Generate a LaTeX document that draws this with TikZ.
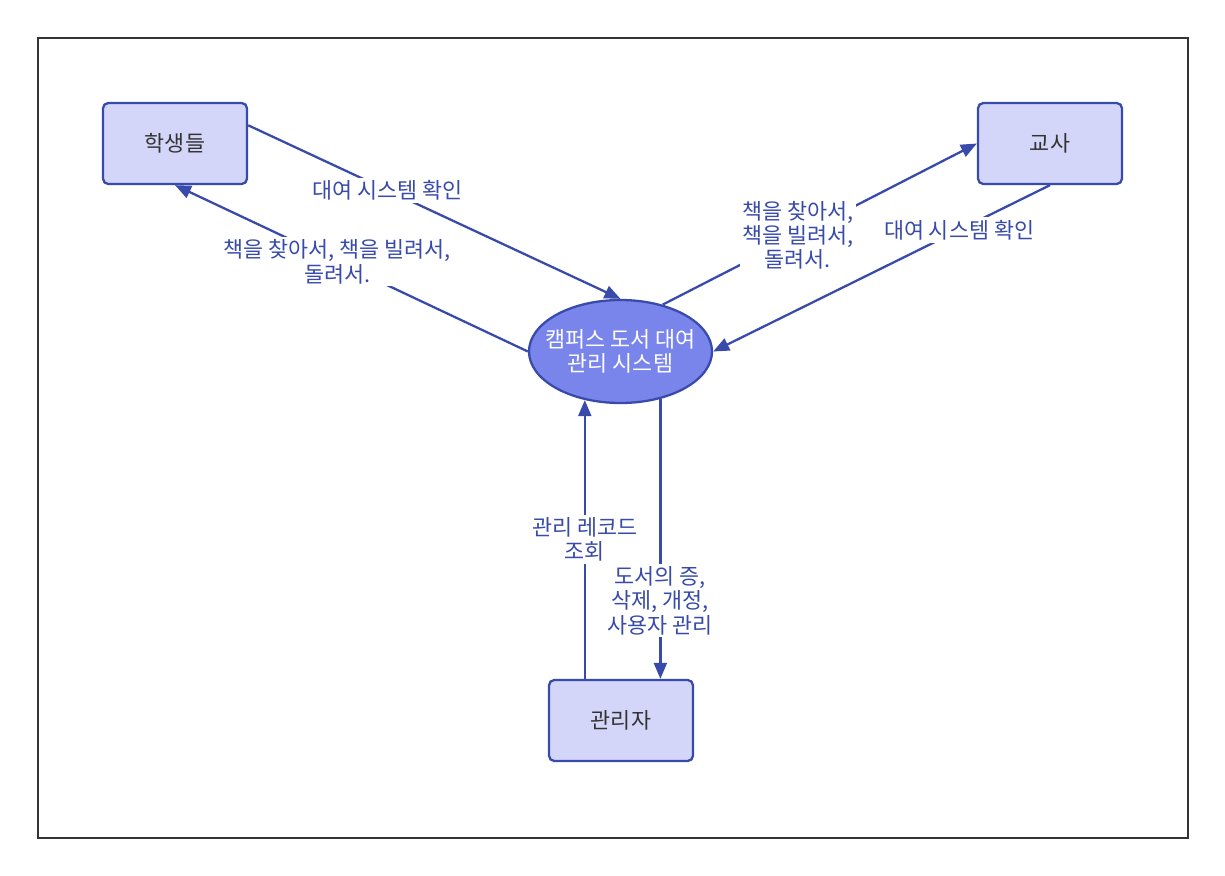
\documentclass[tikz,border=0pt]{standalone}
\usepackage{fontspec}
\setmainfont{Noto Sans CJK KR}
\usetikzlibrary{arrows.meta,positioning,calc,shapes.geometric}
\definecolor{edgeblue}{RGB}{56,75,170}
\definecolor{entfill}{RGB}{211,214,248}
\definecolor{procfill}{RGB}{122,133,236}
\definecolor{txtgray}{RGB}{51,51,51}
\tikzset{
  ent/.style={draw=edgeblue, line width=1.3pt, rounded corners=3pt, fill=entfill, text=txtgray,
    minimum width=2.88cm, minimum height=1.62cm, font=\fontsize{12.4}{13.9}\selectfont},
  proc/.style={draw=edgeblue, line width=1.3pt, ellipse, fill=procfill, text=white, align=center,
    minimum width=3.66cm, minimum height=2.06cm, inner xsep=-0.22cm, inner ysep=0pt,
    font=\fontsize{12.4}{13.9}\selectfont},
  flow/.style={draw=edgeblue, line width=1.3pt, -{Triangle[length=3.2mm,width=2.6mm]}},
  lbl/.style={fill=white, text=edgeblue, align=center, inner sep=1.5pt, font=\fontsize{12.4}{13.9}\selectfont}
}
\begin{document}
\begin{tikzpicture}
    \useasboundingbox (0,0) rectangle (24.5,-17.52);
    \draw[line width=1.2pt, draw=black!80] (0.76,-0.76) rectangle (23.76,-16.76);

    \node[proc] (sys) at (12.41,-7.03) {캠퍼스 도서 대여\\관리 시스템};
    \node[ent] (stu) at (3.5,-2.87) {학생들};
    \node[ent] (tea) at (21,-2.87) {교사};
    \node[ent] (adm) at (12.42,-14.41) {관리자};

    \draw[flow] (stu.14) -- node[lbl, pos=0.375]{대여 시스템 확인} (sys.north);
    \draw[flow] (sys.west) -- node[lbl, pos=0.54]{책을 찾아서, 책을 빌려서,\\돌려서.} (stu.south);
    \draw[flow] (sys.48) -- node[lbl, pos=0.43]{책을 찾아서,\\책을 빌려서,\\돌려서.} (tea.west);
    \draw[flow] (tea.south) -- node[lbl, pos=0.27]{대여 시스템 확인} (sys.east);
    \draw[flow] (adm.131) -- node[lbl, pos=0.5]{관리 레코드\\조회} (adm.131 |- sys.234);
    \draw[flow] (sys.-50.5) -- node[lbl, pos=0.72]{도서의 증,\\삭제, 개정,\\사용자 관리} (sys.-50.5 |- adm.north);
\end{tikzpicture}
\end{document}
